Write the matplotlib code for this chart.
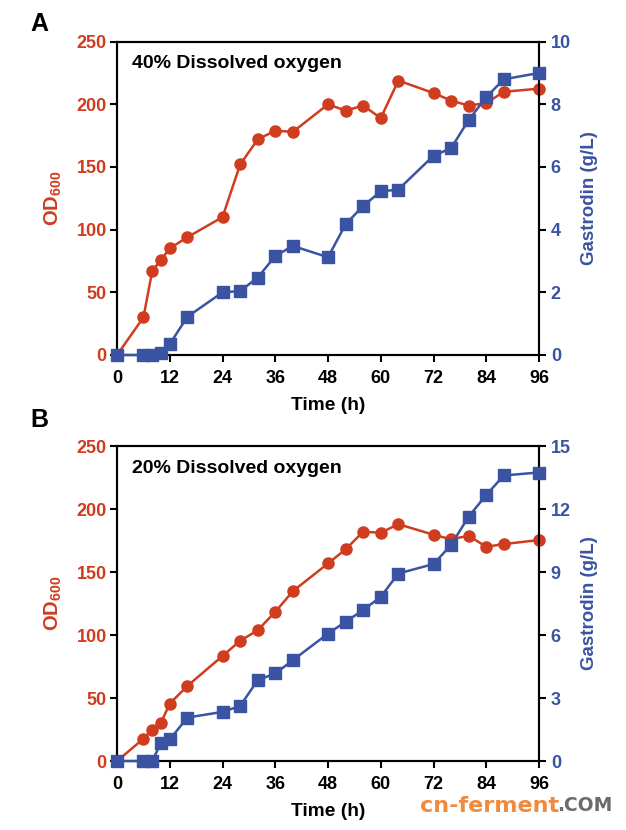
import matplotlib
matplotlib.use("Agg")
import matplotlib.pyplot as plt

plt.rcParams["font.family"] = ["Liberation Sans", "DejaVu Sans"]
plt.rcParams["font.weight"] = "bold"
plt.rcParams["axes.labelweight"] = "bold"
plt.rcParams["mathtext.fontset"] = "custom"
plt.rcParams["mathtext.bf"] = "Liberation Sans:bold"
plt.rcParams["mathtext.rm"] = "Liberation Sans:bold"
plt.rcParams["mathtext.default"] = "bf"

RED = "#d03c1e"
BLUE = "#3a53a2"

# sampling times (h)
time_h = [0, 6, 8, 10, 12, 16, 24, 28, 32, 36, 40, 48, 52, 56, 60, 64, 72, 76, 80, 84, 88, 96]

# panel A: 40% dissolved oxygen
od_40 = [0, 30, 67, 76, 85, 94, 110, 152, 172, 179, 178, 200, 195, 199, 189, 219,
         209, 203, 199, 201, 210, 212.5]
gas_40 = [0, 0, 0, 0.05, 0.35, 1.22, 2.0, 2.04, 2.47, 3.16, 3.48, 3.12, 4.17, 4.76,
          5.22, 5.28, 6.36, 6.6, 7.5, 8.23, 8.8, 9.0]

# panel B: 20% dissolved oxygen
od_20 = [0, 17.7, 24.9, 30.5, 45.6, 59.6, 83.4, 95.4, 103.8, 118.4, 134.8, 156.8, 168,
         182, 181.2, 188, 179.6, 176, 178.8, 170, 172.2, 175.4]
gas_20 = [0, 0, 0, 0.87, 1.03, 2.07, 2.34, 2.62, 3.85, 4.17, 4.8, 6.07, 6.63, 7.19,
          7.82, 8.93, 9.38, 10.29, 11.64, 12.67, 13.6, 13.74]

x_ticks = [0, 12, 24, 36, 48, 60, 72, 84, 96]

panels = [
    ("A", "40% Dissolved oxygen", od_40, gas_40, [0, 2, 4, 6, 8, 10],
     [0.187, 0.5723, 0.674, 0.3775], 0.971),
    ("B", "20% Dissolved oxygen", od_20, gas_20, [0, 3, 6, 9, 12, 15],
     [0.187, 0.0831, 0.674, 0.3795], 0.494),
]

fig = plt.figure(figsize=(6.26, 8.30), dpi=100)

for letter, title, od, gas, r_ticks, rect, letter_y in panels:
    ax = fig.add_axes(rect)
    ax2 = ax.twinx()

    ax.plot(time_h, od, color=RED, marker="o", markersize=8, linewidth=1.8,
            clip_on=False, zorder=3)
    ax2.plot(time_h, gas, color=BLUE, marker="s", markersize=8, linewidth=1.8,
             clip_on=False, zorder=3)

    ax.set_xlim(0, 96)
    ax.set_ylim(0, 250)
    ax2.set_ylim(0, r_ticks[-1])
    ax.set_xticks(x_ticks)
    ax.set_yticks([0, 50, 100, 150, 200, 250])
    ax2.set_yticks(r_ticks)

    for a in (ax, ax2):
        for s in a.spines.values():
            s.set_linewidth(1.5)
        a.tick_params(width=1.5, length=5, labelsize=13)
    ax.tick_params(axis="x", pad=6)
    ax.tick_params(axis="y", labelcolor=RED, pad=2.5)
    ax2.tick_params(axis="y", labelcolor=BLUE, pad=3.5)

    ax.set_xlabel("Time (h)", fontsize=13.8, fontweight="bold", labelpad=7)
    ax.set_ylabel("OD$_{600}$", fontsize=14.5, color=RED, fontweight="bold",
                  labelpad=9)
    ax2.set_ylabel("Gastrodin (g/L)", fontsize=13.5, color=BLUE,
                   fontweight="bold", labelpad=7)

    ax.text(0.035, 0.93, title, transform=ax.transAxes, fontsize=14,
            fontweight="bold", va="center", ha="left")
    fig.text(0.048, letter_y, letter, fontsize=18, fontweight="bold",
             va="center", ha="left")

# watermark at the bottom right
fig.text(0.671, 0.029, "cn-ferment", fontsize=16, fontweight="bold",
         color="#f08a3c", family="DejaVu Sans", va="center", ha="left")
fig.text(0.89, 0.029, ".COM", fontsize=13.5, fontweight="bold",
         color="#6b6b6b", family="DejaVu Sans", va="center", ha="left")

fig.savefig("out.png", dpi=100)
